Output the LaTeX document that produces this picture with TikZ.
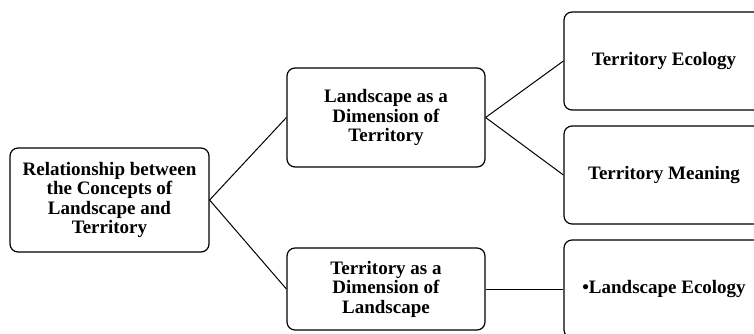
\documentclass[tikz,border=0pt]{standalone}
\usepackage{fontspec}
\setmainfont{Liberation Serif}

\begin{document}
\begin{tikzpicture}[x=1pt,y=-1pt]
\tikzstyle{lien}=[line width=1pt]
\tikzset{bloc/.style={draw,line width=1.2pt,rounded corners=8pt,fill=white,align=center,
font=\fontsize{19}{19.5}\selectfont\bfseries,minimum width=#1,inner sep=2pt},
bloc/.default={198pt}}
\useasboundingbox (0,0) rectangle (754,334);
\clip (0,0) rectangle (754,334);
\node[bloc=199pt,minimum height=104pt] (R) at (109.5,200) {Relationship between\\the Concepts of\\Landscape and\\Territory};
\node[bloc,minimum height=99pt] (R1) at (386,117.5) {Landscape as a\\Dimension of\\Territory};
\node[bloc,minimum height=82pt] (R2) at (386,289) {Territory as a\\Dimension of\\Landscape};
\node[bloc=200pt,minimum height=98pt] (R1a) at (664,61) {Territory Ecology};
\node[bloc=200pt,minimum height=98pt] (R1b) at (664,175) {Territory Meaning};
\node[bloc=200pt,minimum height=98pt] (R2a) at (664,289) {\textbullet Landscape Ecology};

\draw[lien] (R.east) -- (R1.west);
\draw[lien] (R.east) -- (R2.west);
\draw[lien] (R1.east) -- (R1a.west);
\draw[lien] (R1.east) -- (R1b.west);
\draw[lien] (R2.east) -- (R2a.west);

\end{tikzpicture}
\end{document}
